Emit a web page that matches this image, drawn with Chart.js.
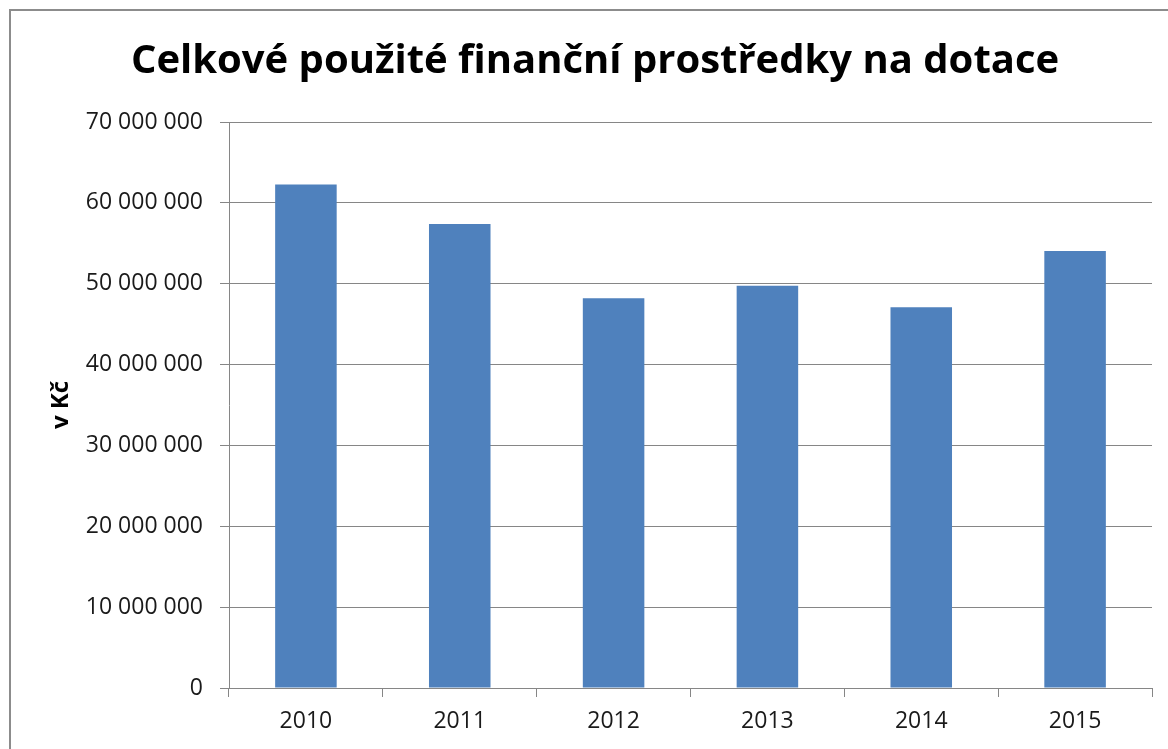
<!DOCTYPE html>
<html>
<head>
<meta charset="utf-8">
<script src="https://cdn.jsdelivr.net/npm/chart.js@4"></script>
<style>
  html, body { margin: 0; padding: 0; background: #fff; overflow: hidden; }
  #wrap { width: 1168px; height: 749px; position: relative; }
</style>
</head>
<body>
<div id="wrap"><canvas id="chart" width="1168" height="749"></canvas></div>
<script>
// data
const years = ['2010', '2011', '2012', '2013', '2014', '2015'];
const amounts = [62270000, 57400000, 48190000, 49750000, 47080000, 54050000];
const yTicks = [0, 10000000, 20000000, 30000000, 40000000, 50000000, 60000000, 70000000];

function formatCzk(v) {
    return String(v).replace(/\B(?=(\d{3})+(?!\d))/g, ' ');
}

// grey frame round the chart (only left and top edges are in view)
const framePlugin = {
    id: 'frame',
    beforeDraw(chart) {
        const ctx = chart.ctx;
        ctx.save();
        ctx.strokeStyle = '#8c8c8c';
        ctx.lineWidth = 2;
        ctx.beginPath();
        ctx.moveTo(10, chart.height + 5);
        ctx.lineTo(10, 10);
        ctx.lineTo(chart.width + 5, 10);
        ctx.stroke();
        ctx.restore();
    }
};

const ctx = document.getElementById('chart').getContext('2d');
new Chart(ctx, {
    type: 'bar',
    data: {
        labels: years,
        datasets: [{
            data: amounts,
            backgroundColor: '#4f81bd',
            borderWidth: 0,
            categoryPercentage: 0.8,
            barPercentage: 0.5
        }]
    },
    options: {
        responsive: false,
        animation: false,
        layout: {
            padding: { left: 38, right: 16, top: 0, bottom: 0 }
        },
        plugins: {
            legend: { display: false },
            tooltip: { enabled: false },
            title: {
                display: true,
                text: 'Celkové použité finanční prostředky na dotace',
                color: '#000',
                font: { family: 'Open Sans', size: 40, weight: 'bold', lineHeight: 1.2 },
                padding: { top: 38, bottom: 36 }
            }
        },
        scales: {
            x: {
                grid: {
                    display: true,
                    drawOnChartArea: false,
                    drawTicks: true,
                    tickLength: 9,
                    color: '#868686',
                    offset: true
                },
                border: { color: '#868686', width: 1 },
                ticks: {
                    color: '#1a1a1a',
                    font: { family: 'Open Sans', size: 23 },
                    padding: 11,
                    maxRotation: 0
                },
                afterFit(scale) { scale.height = 61; }
            },
            y: {
                min: 0,
                max: 70000000,
                afterBuildTicks(scale) {
                    scale.ticks = yTicks.map(v => ({ value: v }));
                },
                grid: {
                    color: '#868686',
                    tickLength: 9,
                    lineWidth: 1
                },
                border: { color: '#868686', width: 1 },
                ticks: {
                    color: '#1a1a1a',
                    font: { family: 'Open Sans', size: 23 },
                    padding: 17,
                    callback: v => formatCzk(v)
                },
                title: {
                    display: true,
                    text: 'v Kč',
                    color: '#000',
                    font: { family: 'Open Sans', size: 24, weight: 'bold' },
                    padding: { top: 9, bottom: 0 }
                },
                afterFit(scale) { scale.width = 191; }
            }
        }
    },
    plugins: [framePlugin]
});
</script>
</body>
</html>
